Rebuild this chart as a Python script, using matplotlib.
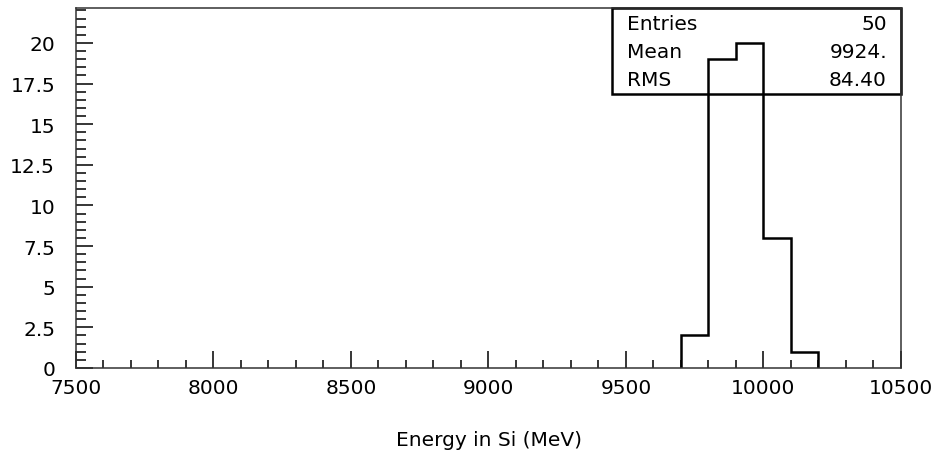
import numpy as np
import matplotlib
matplotlib.use("Agg")
import matplotlib.pyplot as plt
from matplotlib.patches import Rectangle
from matplotlib.ticker import MultipleLocator, FixedFormatter, FuncFormatter

# ---- data ----
bin_edges = [9700, 9800, 9900, 10000, 10100, 10200]
bin_counts = [2, 19, 20, 8, 1]
x_label = "Energy in Si (MeV)"
stat_names = ["Entries", "Mean", "RMS"]

# stats from the histogram contents
centers = (np.array(bin_edges[:-1]) + np.array(bin_edges[1:])) / 2
w = np.array(bin_counts, dtype=float)
entries = int(w.sum())
mean = (centers * w).sum() / w.sum()
rms = np.sqrt(((centers - mean) ** 2 * w).sum() / w.sum())
stat_values = [f"{entries}", f"{mean:.0f}.", f"{rms:.2f}"]

plt.rcParams['font.family'] = ['DejaVu Sans']
FS = 14.5

fig = plt.figure(figsize=(9.35, 4.52), dpi=100)
L, R, T, B = 76, 901, 9, 369
W, H = 935, 452
ax = fig.add_axes([L / W, 1 - B / H, (R - L) / W, (B - T) / H])

ax.stairs(bin_counts, bin_edges, baseline=0, fill=False, color='black', linewidth=1.8)

ax.set_xlim(7500, 10500)
ax.set_ylim(0, 22.15)

ax.xaxis.set_major_locator(MultipleLocator(500))
ax.xaxis.set_minor_locator(MultipleLocator(100))
ax.yaxis.set_major_locator(MultipleLocator(2.5))
ax.yaxis.set_minor_locator(MultipleLocator(0.5))
ax.yaxis.set_major_formatter(FuncFormatter(lambda v, p: f"{v:g}"))

ax.tick_params(axis='x', which='major', direction='in', length=12, width=1.1, pad=7, labelsize=FS)
ax.tick_params(axis='x', which='minor', direction='in', length=6, width=1.1)
ax.tick_params(axis='y', which='major', direction='in', length=12.5, width=1.1, pad=15, labelsize=FS)
ax.tick_params(axis='y', which='minor', direction='in', length=7, width=1.1)
ax.tick_params(colors='black')

for s in ax.spines.values():
    s.set_linewidth(1.1)
    s.set_color('#333333')

ax.set_xlabel(x_label, fontsize=FS, labelpad=24)

# stats box
x0 = (612 - L) / (R - L)
y0 = (B - 95) / (B - T)
ax.add_patch(Rectangle((x0, y0), 1 - x0, 1 - y0, transform=ax.transAxes,
                       fill=False, edgecolor='black', linewidth=1.8, clip_on=False))
rows_y = [24, 53, 81]
for name, val, ry in zip(stat_names, stat_values, rows_y):
    yy = (B - ry) / (B - T)
    ax.text((627 - L) / (R - L), yy, name, transform=ax.transAxes,
            ha='left', va='center', fontsize=FS)
    ax.text((887 - L) / (R - L), yy, val, transform=ax.transAxes,
            ha='right', va='center', fontsize=FS)

fig.savefig("out.png", dpi=100)
